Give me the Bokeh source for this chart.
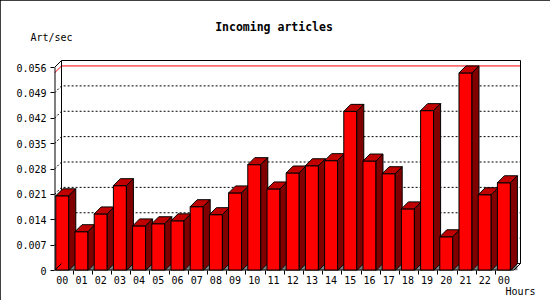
from bokeh.plotting import figure
from bokeh.models import FixedTicker, Label, Range1d, CustomJSTickFormatter
from bokeh.embed import file_html
from bokeh.resources import INLINE

# ---- data ----
hours = ["00", "01", "02", "03", "04", "05", "06", "07", "08", "09", "10", "11",
         "12", "13", "14", "15", "16", "17", "18", "19", "20", "21", "22", "00"]
values = [0.0206, 0.0107, 0.0156, 0.0234, 0.0123, 0.0129, 0.0137, 0.0176,
          0.0154, 0.0214, 0.0292, 0.0225, 0.0269, 0.0289, 0.0303, 0.0439,
          0.0302, 0.0267, 0.0170, 0.0441, 0.0093, 0.0545, 0.0209, 0.0242]
y_ticks = [0, 0.007, 0.014, 0.021, 0.028, 0.035, 0.042, 0.049, 0.056]
y_tick_labels = ["0", "0.007", "0.014", "0.021", "0.028", "0.035", "0.042", "0.049", "0.056"]
title_text = "Incoming articles"
y_title = "Art/sec"
x_title = "Hours"

# ---- geometry (pixels per unit, 3D depth) ----
PX = 19.2
PY = 3625.0
DX = 7 / PX
DY = 7 / PY
H = 6.5 / PX
FRAME_W = 467
FRAME_H = 211
X0 = -0.406
X1 = X0 + (FRAME_W - 1) / PX
YTOP = y_ticks[-1] + DY

FONT = "DejaVu Sans Mono"

p = figure(width=550, height=300, output_backend="svg", toolbar_location=None,
           x_range=Range1d(X0, X0 + FRAME_W / PX),
           y_range=Range1d(0, FRAME_H / PY),
           min_border_left=54, min_border_right=29, min_border_top=59, min_border_bottom=30)
p.outline_line_color = None
p.xgrid.visible = False
p.ygrid.visible = False
p.background_fill_color = "white"
p.border_fill_color = "white"
p.styles = {"outline": "1px solid black", "outline-offset": "-1px"}

# x axis
p.xaxis.ticker = FixedTicker(ticks=list(range(len(hours))),
                             minor_ticks=[i - 0.44 for i in range(len(hours))])
p.xaxis.formatter = CustomJSTickFormatter(args=dict(labels=hours),
                                          code="return labels[Math.round(tick)] || ''")
p.xaxis.major_tick_line_color = None
p.xaxis.major_tick_out = 4
p.xaxis.major_tick_in = 0
p.xaxis.minor_tick_out = 4
p.xaxis.minor_tick_in = 0
p.xaxis.minor_tick_line_color = "black"
p.xaxis.axis_line_color = None
p.xaxis.major_label_standoff = 1
p.xaxis.major_label_text_font = FONT
p.xaxis.major_label_text_font_size = "10px"
p.xaxis.major_label_text_color = "black"

# y axis
p.yaxis.ticker = FixedTicker(ticks=y_ticks, minor_ticks=[])
p.yaxis.formatter = CustomJSTickFormatter(args=dict(vals=y_ticks, labels=y_tick_labels),
    code="for (let k = 0; k < vals.length; k++) { if (Math.abs(vals[k] - tick) < 1e-6) return labels[k]; } return '';")
p.yaxis.major_tick_out = 4
p.yaxis.major_tick_in = 0
p.yaxis.major_tick_line_color = "black"
p.yaxis.minor_tick_line_color = None
p.yaxis.axis_line_color = None
p.yaxis.major_label_standoff = 4
p.yaxis.major_label_text_font = FONT
p.yaxis.major_label_text_font_size = "10px"
p.yaxis.major_label_text_color = "black"

# dotted grid on back wall (with left-wall diagonal)
gx = [[X0, X0 + DX, X1] for v in y_ticks[1:-1]]
gy = [[v, v + DY, v + DY] for v in y_ticks[1:-1]]
p.multi_line(gx, gy, line_color="black", line_width=1, line_dash="2 2")

# max line in red
vmax = max(values)
p.line([X0, X0 + DX, X1], [vmax, vmax + DY, vmax + DY], line_color="red", line_width=1)

# back wall outline
p.multi_line([[X0 + DX, X0 + DX, X1, X1], [X0 + DX, X1]],
             [[DY, YTOP, YTOP, DY], [DY, DY]], line_color="black", line_width=1)

# floor shadows (grey triangles)
tx = [[i + H, i + H + DX, i + H + DX] for i in range(len(values))]
ty = [[0, 0, DY] for _ in values]
p.patches(tx, ty, fill_color="#808080", line_color=None)

# 3D bars: front, top, side per bar
bxs, bys, bcol = [], [], []
for i, v in enumerate(values):
    l, r = i - H, i + H
    bxs.append([l, r, r, l]); bys.append([0, 0, v, v]); bcol.append("#FF0000")
    bxs.append([l, r, r + DX, l + DX]); bys.append([v, v, v + DY, v + DY]); bcol.append("#C00000")
    bxs.append([r, r + DX, r + DX, r]); bys.append([0, DY, v + DY, v]); bcol.append("#800000")
p.patches(bxs, bys, fill_color=bcol, line_color="black", line_width=1)

# front frame lines (edge lines doubled in width since half is clipped)
p.line([X0, X1 - DX], [0, 0], line_color="black", line_width=2)
p.line([X0, X0], [0, y_ticks[-1]], line_color="black", line_width=2)
p.multi_line([[X0, X0 + DX], [X0, X0 + DX], [X1 - DX, X1]],
             [[y_ticks[-1], YTOP], [0, DY], [0, DY]], line_color="black", line_width=1)

# texts placed in the side panels (not clipped to the frame)
p.add_layout(Label(x=219.5, y=32.3, x_units="screen", y_units="screen", text=title_text,
                   text_font=FONT, text_font_size="11.5px", text_font_style="bold",
                   text_align="center", text_baseline="middle", text_color="black"), "above")
p.add_layout(Label(x=-24, y=7.6, x_units="screen", y_units="screen", text=y_title,
                   text_font=FONT, text_font_size="10px",
                   text_align="left", text_baseline="middle", text_color="black"), "above")
p.add_layout(Label(x=451, y=6.5, x_units="screen", y_units="screen", text=x_title,
                   text_font=FONT, text_font_size="10px",
                   text_align="left", text_baseline="middle", text_color="black"), "below")

open("out.html", "w").write(file_html(p, INLINE))
